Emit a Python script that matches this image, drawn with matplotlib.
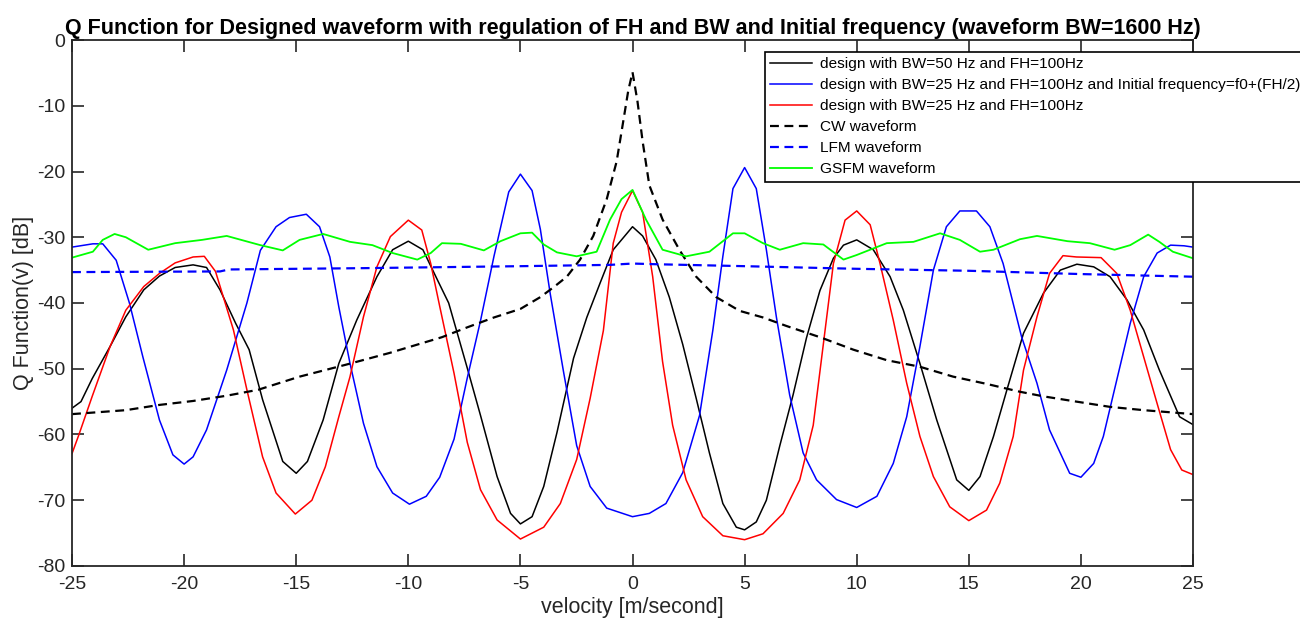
import matplotlib.pyplot as plt

plt.rcParams["font.family"] = ["Liberation Sans", "DejaVu Sans"]
plt.rcParams["axes.unicode_minus"] = False

# ---------------------------
# DATA
# ---------------------------
bw50_x = [-25, -24.6, -24.1, -23.3, -22.6, -21.8, -21.1, -20.4, -19.6, -19.0, -18.4, -17.7, -17.1,
          -16.5, -15.6, -15.0, -14.5, -13.8, -13.1, -12.3, -11.4, -10.7, -10.0, -9.35, -8.7, -8.2,
          -7.37, -6.78, -6.04, -5.44, -5.0, -4.48, -3.96, -3.37, -2.63, -2.04, -1.45, -0.86, 0,
          0.45, 1.04, 1.64, 2.24, 2.84, 3.43, 4.03, 4.63, 5.0, 5.52, 5.97, 6.57, 7.16, 7.76, 8.36,
          8.96, 9.41, 10.0, 10.74, 11.49, 12.08, 12.82, 13.57, 14.46, 15.0, 15.5, 16.1, 16.7,
          17.44, 18.33, 19.08, 19.82, 20.57, 21.3, 22.05, 22.8, 23.5, 24.4, 25]
bw50_y = [-56.0, -55.0, -51.5, -46.6, -42.1, -38.0, -35.9, -34.6, -34.2, -34.6, -38.0, -43.1, -47.1,
          -54.7, -64.1, -65.9, -64.1, -57.8, -49.2, -42.6, -36.0, -31.9, -30.6, -31.9, -36.5, -40.0,
          -49.9, -57.1, -66.4, -72.0, -73.6, -72.5, -67.9, -59.7, -48.4, -42.2, -37.0, -31.9, -28.4,
          -29.8, -33.4, -39.1, -46.3, -54.5, -62.8, -70.5, -74.1, -74.5, -73.3, -70.0, -61.7, -54.0,
          -45.3, -38.1, -33.2, -31.2, -30.4, -31.9, -36.0, -41.1, -49.2, -57.8, -66.9, -68.5, -66.4,
          -60.3, -53.2, -44.6, -38.5, -35.0, -34.1, -34.5, -36.0, -39.5, -44.1, -50.2, -57.3, -58.5]

shift_x = [-25, -24.07, -23.63, -23.03, -22.44, -21.84, -21.1, -20.5, -20.0, -19.6, -19.0, -18.1,
           -17.2, -16.6, -15.9, -15.3, -14.55, -13.96, -13.5, -13.1, -12.6, -12.0, -11.4, -10.7,
           -9.95, -9.2, -8.6, -7.96, -7.37, -6.78, -6.18, -5.52, -5.0, -4.48, -4.11, -3.67, -3.08,
           -2.49, -1.89, -1.15, 0, 0.75, 1.49, 2.24, 2.99, 3.58, 4.03, 4.48, 5.0, 5.52, 5.97, 6.42,
           7.01, 7.61, 8.21, 9.1, 10.0, 10.9, 11.63, 12.23, 12.82, 13.42, 14.0, 14.6, 15.34, 15.94,
           16.53, 17.35, 18.04, 18.6, 19.5, 20.0, 20.57, 21.0, 21.6, 22.2, 22.8, 23.4, 24.0, 24.6, 25]
shift_y = [-31.5, -31.0, -31.0, -33.5, -40.0, -48.2, -57.8, -63.1, -64.5, -63.4, -59.3, -50.2,
           -40.0, -32.0, -28.4, -27.0, -26.5, -28.4, -33.0, -40.6, -49.2, -58.3, -64.9, -68.9,
           -70.6, -69.4, -66.5, -60.7, -51.4, -42.7, -32.9, -23.1, -20.4, -22.9, -28.8, -38.6, -50.4,
           -61.7, -67.9, -71.2, -72.5, -72.0, -70.5, -65.8, -57.1, -44.2, -32.9, -22.6, -19.4, -22.6,
           -31.9, -42.2, -54.0, -62.8, -66.9, -69.9, -71.1, -69.4, -64.4, -57.3, -46.6, -35.0, -28.4,
           -26.0, -26.0, -28.4, -34.0, -45.1, -52.2, -59.3, -65.9, -66.5, -64.4, -60.3, -51.7, -43.1,
           -36.0, -32.4, -31.2, -31.3, -31.5]

bw25_x = [-25, -24.7, -24.1, -23.3, -22.6, -21.8, -21.1, -20.4, -19.6, -19.1, -18.6, -17.8, -17.2,
          -16.5, -15.9, -15.04, -14.3, -13.7, -13.1, -12.6, -12.0, -11.4, -10.8, -10.0, -9.4, -9.0,
          -8.6, -7.96, -7.37, -6.78, -6.04, -5.0, -3.96, -3.22, -2.49, -1.89, -1.3, -0.86, -0.49, 0,
          0.45, 0.9, 1.34, 1.79, 2.39, 3.13, 4.03, 5.0, 5.82, 6.72, 7.46, 8.06, 8.51, 8.96, 9.48,
          10.0, 10.6, 11.04, 11.63, 12.23, 12.82, 13.42, 14.15, 15.0, 15.79, 16.38, 16.98, 17.44,
          18.04, 18.6, 19.2, 19.8, 20.9, 21.6, 22.2, 22.8, 23.4, 24.0, 24.5, 25]
bw25_y = [-62.9, -60.1, -54.2, -46.6, -41.1, -37.5, -35.5, -33.9, -33.0, -32.9, -35.2, -44.1, -53.2,
          -63.4, -68.9, -72.1, -70.0, -64.9, -57.3, -51.2, -42.1, -34.5, -29.9, -27.4, -28.9, -34.0,
          -40.5, -50.7, -61.2, -68.4, -73.0, -75.9, -74.1, -70.5, -63.8, -54.5, -44.2, -30.9, -26.2,
          -22.9, -26.2, -36.0, -48.9, -58.6, -66.9, -72.5, -75.4, -76.0, -75.1, -72.0, -66.9, -58.6,
          -46.3, -34.0, -27.4, -26.0, -28.1, -34.0, -42.6, -52.2, -60.3, -66.4, -71.0, -73.1, -71.5,
          -67.4, -60.3, -50.2, -42.1, -35.5, -32.8, -33.0, -33.1, -35.5, -41.1, -48.2, -55.3, -62.3,
          -65.4, -66.1]

cw_x = [-25, -22.6, -21.1, -19.6, -18.1, -16.7, -14.85, -12.8, -10.84, -8.5, -7.37, -6.18, -5.0,
        -4.11, -3.52, -2.93, -2.34, -1.75, -1.15, -0.71, -0.41, -0.19, 0, 0.22, 0.45, 0.75, 1.34,
        2.09, 2.84, 3.73, 4.78, 5.82, 6.87, 8.36, 9.85, 11.34, 12.82, 14.3, 15.79, 17.28, 18.33,
        19.8, 21.3, 22.8, 25]
cw_y = [-56.9, -56.3, -55.5, -54.9, -54.1, -53.2, -51.2, -49.4, -47.6, -45.2, -43.7, -42.2, -40.9,
        -39.1, -37.6, -36.0, -33.4, -29.8, -24.2, -18.5, -12.3, -7.7, -4.9, -9.3, -15.4, -22.1,
        -27.3, -31.9, -36.0, -39.1, -41.2, -42.2, -43.5, -45.2, -47.1, -48.7, -49.7, -51.2, -52.3,
        -53.5, -54.2, -55.0, -55.8, -56.3, -56.9]

lfm_x = [-25, -18.4, -18.0, -12, -5, -1, 0, 1, 5, 10, 15, 20, 25]
lfm_y = [-35.3, -35.2, -34.9, -34.7, -34.4, -34.2, -34.0, -34.1, -34.4, -34.8, -35.1, -35.6, -36.0]

gsfm_x = [-25, -24.07, -23.63, -23.1, -22.6, -21.6, -20.4, -19.2, -18.1, -16.6, -15.6, -14.85,
          -13.8, -12.6, -11.6, -10.7, -9.6, -9.0, -8.5, -7.66, -6.63, -5.89, -5.0, -4.48, -3.96,
          -3.37, -2.49, -1.6, -1.0, -0.49, 0, 0.6, 1.34, 2.39, 3.43, 4.48, 5.0, 5.82, 6.57, 7.61,
          8.51, 9.41, 10.0, 11.34, 12.53, 13.72, 14.6, 15.5, 16.1, 17.28, 18.04, 19.4, 20.4, 21.5,
          22.2, 23.0, 23.5, 24.1, 25]
gsfm_y = [-33.1, -32.2, -30.4, -29.5, -30.0, -31.9, -30.9, -30.4, -29.8, -31.2, -32.0, -30.4,
          -29.5, -30.7, -31.2, -32.4, -33.4, -32.4, -30.9, -31.0, -32.0, -30.6, -29.4, -29.3, -31.1,
          -32.3, -32.9, -32.2, -27.3, -24.2, -22.8, -27.3, -31.9, -32.9, -32.2, -29.4, -29.4, -30.9,
          -31.9, -30.9, -31.1, -33.4, -32.7, -30.9, -30.7, -29.4, -30.4, -32.2, -31.9, -30.3, -29.8,
          -30.6, -30.9, -31.9, -31.2, -29.6, -30.7, -32.2, -33.2]

labels = [
    "design with BW=50 Hz and FH=100Hz",
    "design with BW=25 Hz and FH=100Hz and Initial frequency=f0+(FH/2)",
    "design with BW=25 Hz and FH=100Hz",
    "CW waveform",
    "LFM waveform",
    "GSFM waveform",
]

x_ticks = [-25, -20, -15, -10, -5, 0, 5, 10, 15, 20, 25]
y_ticks = [0, -10, -20, -30, -40, -50, -60, -70, -80]

# ---------------------------
# PLOT
# ---------------------------
fig = plt.figure(figsize=(13, 6.27), dpi=100)
ax = fig.add_axes([0.0554, 0.0973, 0.8623, 0.8389])

ax.plot(bw50_x, bw50_y, color="black", lw=1.1, label=labels[0])
ax.plot(shift_x, shift_y, color="#0000ff", lw=1.1, label=labels[1])
ax.plot(bw25_x, bw25_y, color="#ff0000", lw=1.1, label=labels[2])
ax.plot(cw_x, cw_y, color="black", lw=1.6, ls=(0, (4, 2.5)), label=labels[3])
ax.plot(lfm_x, lfm_y, color="#0000ff", lw=1.6, ls=(0, (4, 2.5)), label=labels[4])
ax.plot(gsfm_x, gsfm_y, color="#00ff00", lw=1.3, label=labels[5])

ax.set_xlim(-25, 25)
ax.set_ylim(-80, 0)
ax.set_xticks(x_ticks)
ax.set_yticks(y_ticks)
ax.tick_params(direction="in", length=8.5, width=1.2, top=True, right=True,
               labelsize=14, colors="#262626")
ax.tick_params(axis="x", pad=7)
ax.tick_params(axis="y", pad=5)
for s in ax.spines.values():
    s.set_color("#262626")
    s.set_linewidth(1.3)

ax.set_title("Q Function for Designed waveform with regulation of FH and BW and Initial frequency (waveform BW=1600 Hz)",
             fontsize=15.5, fontweight="bold", pad=4)
ax.set_xlabel("velocity [m/second]", fontsize=15.5, color="#262626", labelpad=3)
ax.set_ylabel("Q Function(v) [dB]", fontsize=15.5, color="#262626", labelpad=2)

# legend runs past the right edge of the figure, as in the original
leg = ax.legend(loc="upper left", bbox_to_anchor=(0.618, 0.977), borderaxespad=0,
                fontsize=11.1, frameon=True, fancybox=False, framealpha=1,
                edgecolor="black", handlelength=2.7, handletextpad=0.5,
                labelspacing=0.45, borderpad=0.35)
leg.get_frame().set_linewidth(1.2)

plt.savefig("out.png", dpi=100)
